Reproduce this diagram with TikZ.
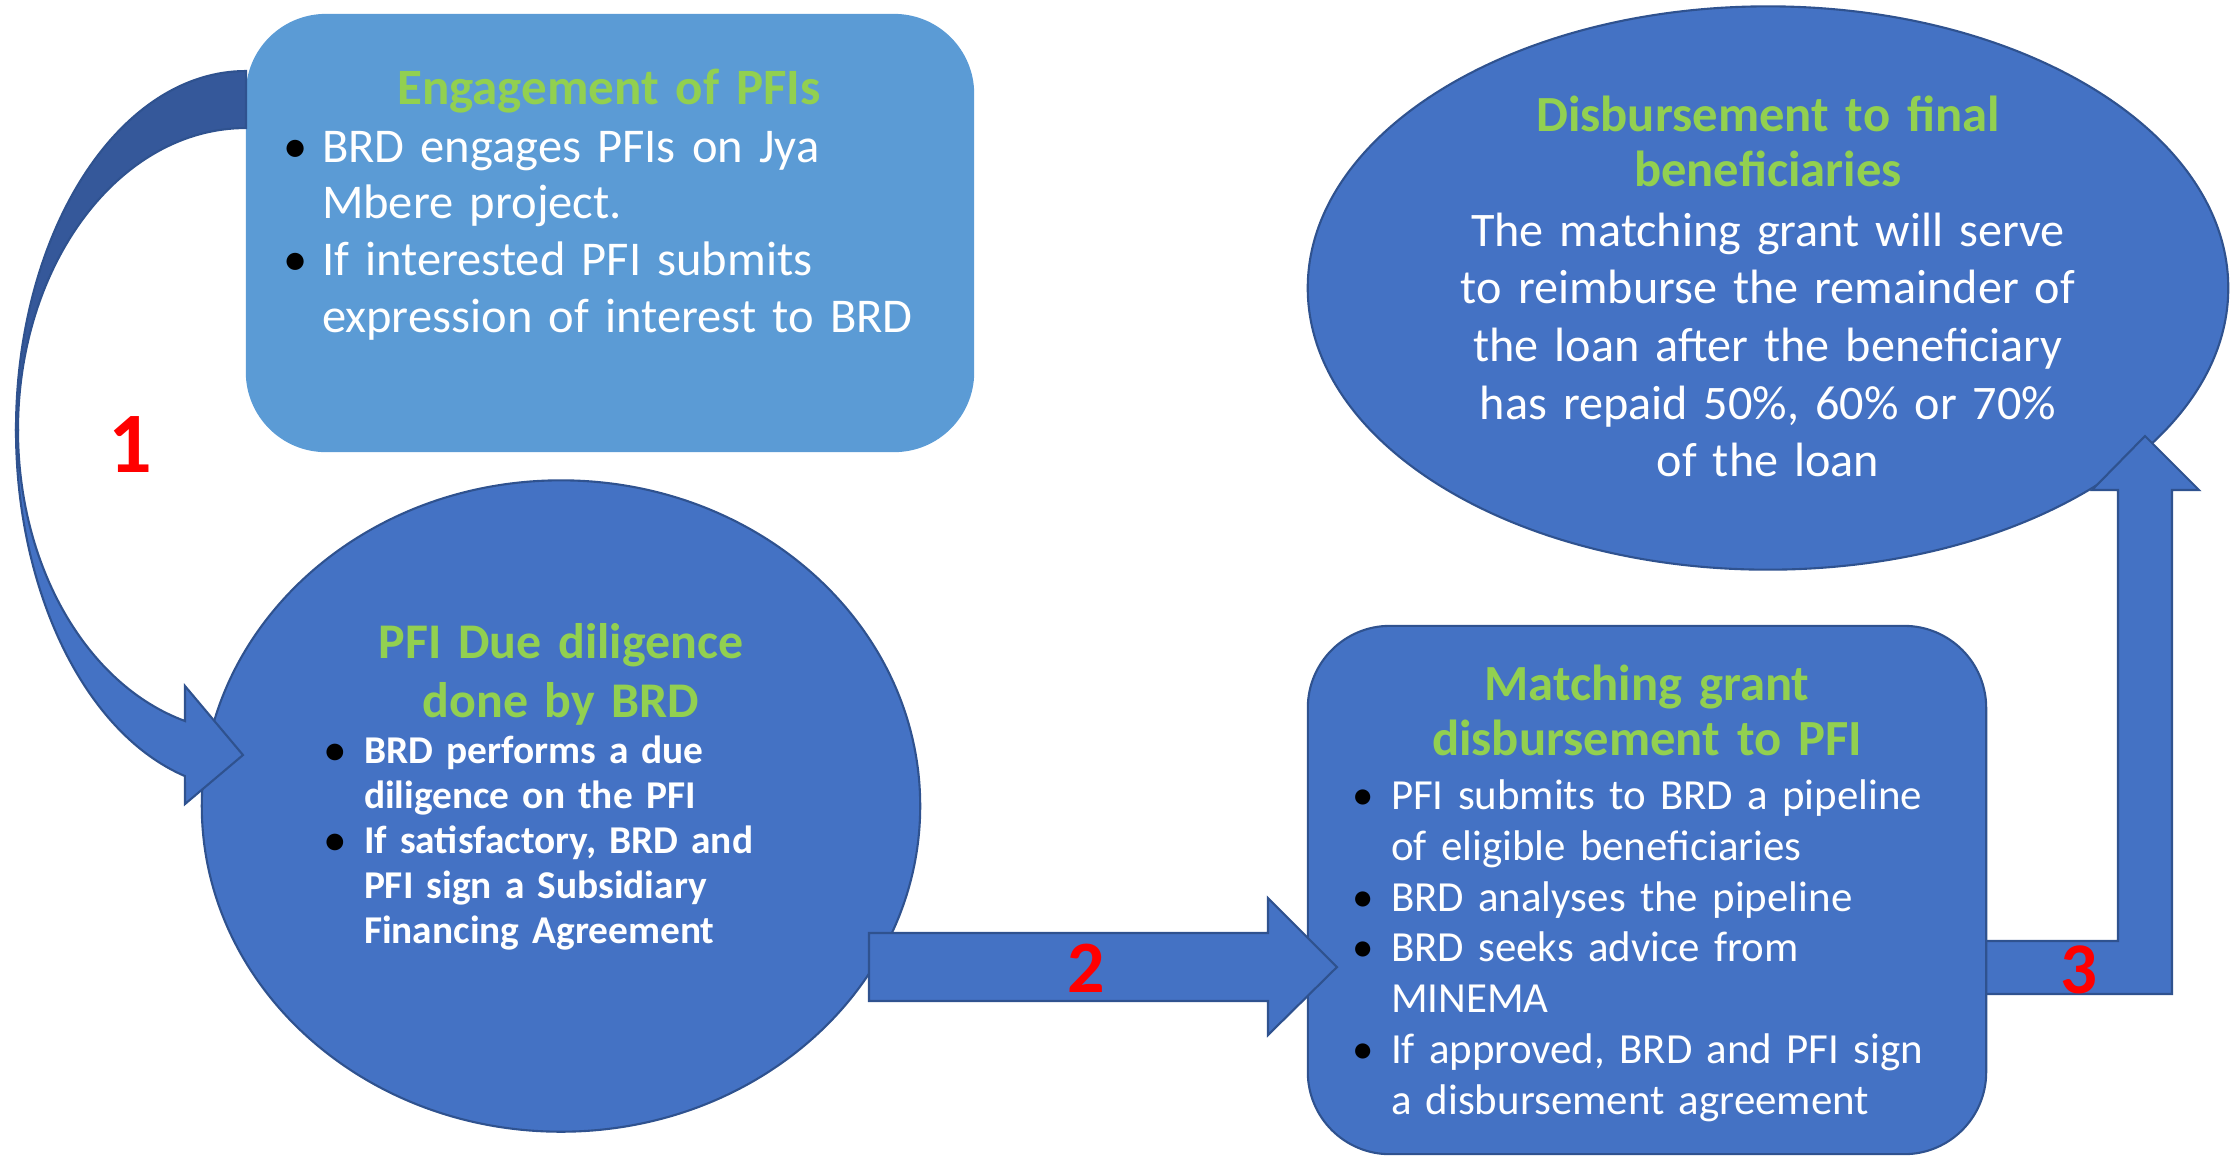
\documentclass[tikz,border=0pt]{standalone}
\usepackage{fontspec}
\setmainfont{Carlito}[WordSpace=0.8]
\usetikzlibrary{shapes.geometric,positioning,calc}
\definecolor{lightblue}{HTML}{5B9BD5}
\definecolor{stageblue}{HTML}{4472C4}
\definecolor{edgeblue}{HTML}{2F528F}
\definecolor{bandblue}{HTML}{35589A}
\definecolor{titlegreen}{HTML}{92D050}
\newcommand{\itemdot}{\makebox[0.39cm][l]{\color{black}\textbullet}}
\newcommand{\itemgap}{\hspace*{0.39cm}}

\begin{document}
\begin{tikzpicture}[x=0.01cm, y=0.01cm,
  every node/.style={inner sep=0pt, outer sep=0pt},
  stage/.style={fill=stageblue, draw=edgeblue, line width=0.6pt},
  blockarrow/.style={fill=stageblue, draw=edgeblue, line width=0.6pt, line join=miter},
  heading/.style={text=titlegreen, font=\fontsize{14}{16}\selectfont\bfseries, text width=8cm, align=center, anchor=base},
  bodytext/.style={text=white, align=left, anchor=base west},
  centretext/.style={text=white, text width=8cm, align=center, anchor=base},
  steplabel/.style={text=red, font=\fontsize{#1}{#1}\selectfont\bfseries}]
\useasboundingbox (0,0) rectangle (2230,-1156);

\node (diligence) [stage, ellipse, minimum width=7.18cm, minimum height=6.51cm] at (561,-806) {};
\node (final) [stage, ellipse, minimum width=9.20cm, minimum height=5.63cm] at (1768,-288) {};

\coordinate (tip3) at (2145,-436);
\draw[blockarrow] (tip3) -- ++(54,-54) -- ++(-27,0) -- ++(0,-504) -- ++(-212,0) -- ++(0,53)
  -- ++(158,0) -- ++(0,451) -- ++(-26,0) -- cycle;

\node (match) [stage, rounded corners=0.82cm, minimum width=6.78cm, minimum height=5.28cm] at (1647,-890) {};

\coordinate (tip2) at (1337,-967);
\draw[blockarrow] (tip2) -- ++(-69,69) -- ++(0,-35) -- ++(-399,0) -- ++(0,-68) -- ++(399,0)
  -- ++(0,-34) -- cycle;

\node (engage) [fill=lightblue, rounded corners=0.8cm, minimum width=7.28cm, minimum height=4.38cm] at (610,-233) {};

\coordinate (bend) at (246,-430);
\draw[blockarrow, fill=bandblue] ($(bend)+(0,359)$) arc[start angle=90, end angle=180, x radius=230, y radius=359]
  -- ++(2,0) arc[start angle=180, end angle=90, x radius=228, y radius=302] -- cycle;
\draw[blockarrow] ($(bend)+(-230,0)$) arc[start angle=180, end angle=254.6, x radius=230, y radius=359]
  -- (185,-804) -- (243,-755) -- (185,-686) -- (185,-721)
  arc[start angle=254.48, end angle=180, x radius=228, y radius=302] -- cycle;

\node (engagehead) [heading, font=\fontsize{14.5}{16}\selectfont\bfseries] at (609,-104) {Engagement of PFIs};
\node (engagebody) [bodytext, text width=7cm, font=\fontsize{13.8}{16.2}\selectfont] at (283,-162)
  {\itemdot BRD engages PFIs on Jya\\ \itemgap Mbere project.\\ \itemdot If interested PFI submits\\ \itemgap expression of interest to BRD};

\node (diligencehead) [heading, font=\fontsize{14.2}{16.8}\selectfont\bfseries] at (561,-658) {PFI Due diligence\\done by BRD};
\node (diligencebody) [bodytext, text width=5cm, font=\fontsize{11.2}{12.8}\selectfont\bfseries] at (325,-763)
  {\itemdot BRD performs a due\\ \itemgap diligence on the PFI\\ \itemdot If satisfactory, BRD and\\ \itemgap PFI sign a Subsidiary\\ \itemgap Financing Agreement};

\node (matchhead) [heading, font=\fontsize{14.4}{15.9}\selectfont\bfseries] at (1647,-700) {Matching grant\\disbursement to PFI};
\node (matchbody) [bodytext, text width=6cm, font=\fontsize{12.2}{14.5}\selectfont] at (1352,-809)
  {\itemdot PFI submits to BRD a pipeline\\ \itemgap of eligible beneficiaries\\ \itemdot BRD analyses the pipeline\\ \itemdot BRD seeks advice from\\ \itemgap MINEMA\\ \itemdot If approved, BRD and PFI sign\\ \itemgap a disbursement agreement};

\node (finalhead) [heading, font=\fontsize{14.4}{15.9}\selectfont\bfseries] at (1768,-131) {Disbursement to final\\beneficiaries};
\node (finalbody) [centretext, font=\fontsize{13.7}{16.4}\selectfont] at (1768,-246)
  {The matching grant will serve\\to reimburse the remainder of\\the loan after the beneficiary\\has repaid 50\%, 60\% or 70\%\\of the loan};

\node (one) [steplabel=24.5] at (130,-444) {1};
\node (two) [steplabel=21] at (1086,-968) {2};
\node (three) [steplabel=20.7] at (2079,-970) {3};
\end{tikzpicture}
\end{document}
